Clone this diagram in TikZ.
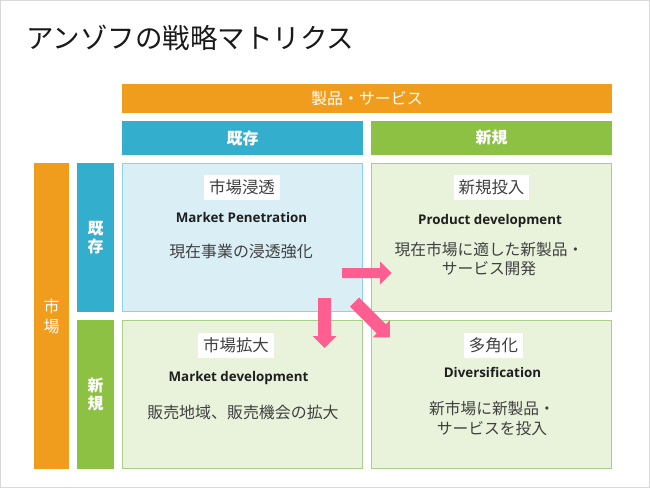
\documentclass[tikz,border=0pt]{standalone}
\usepackage{fontspec}
\setmainfont{Noto Sans CJK JP}
\newfontfamily\enfont{Open Sans}
\definecolor{orangec}{RGB}{240,157,30}
\definecolor{bluec}{RGB}{52,174,205}
\definecolor{greenc}{RGB}{140,193,68}
\definecolor{lbluefill}{RGB}{218,238,246}
\definecolor{lblueline}{RGB}{140,210,235}
\definecolor{lgreenfill}{RGB}{233,243,219}
\definecolor{lgreenline}{RGB}{170,205,140}
\definecolor{pinkc}{RGB}{255,94,145}
\definecolor{textc}{RGB}{64,64,64}
\definecolor{framec}{RGB}{217,217,217}
\begin{document}
\begin{tikzpicture}[x=1bp,y=-1bp,
  hbox/.style={draw=none, inner sep=0pt, text=white},
  cellblue/.style={draw=lblueline, fill=lbluefill, line width=1bp, minimum width=240bp, minimum height=148bp, inner sep=0pt},
  cellgreen/.style={draw=lgreenline, fill=lgreenfill, line width=1bp, minimum width=240bp, minimum height=148bp, inner sep=0pt},
  lab/.style={fill=white, text=textc, inner xsep=5bp, minimum height=25bp, inner ysep=0pt, font=\fontsize{16.5}{18}\selectfont},
  eng/.style={text=black!88, font=\enfont\bfseries\fontsize{13.4}{15}\selectfont, inner sep=0pt},
  body/.style={text=textc, align=center, inner sep=0pt},
  parrow/.style={fill=pinkc, draw=none}
]
\useasboundingbox (0,0) rectangle (650,488);
\draw[framec, line width=1bp] (0.5,0.5) rectangle (649.5,487.5);
\node[anchor=west, inner sep=0pt, text=black!90, font=\fontsize{27.6}{30}\selectfont] (title) at (26,38) {アンゾフの戦略マトリクス};
% headers
\node[hbox, fill=orangec, minimum width=490bp, minimum height=29bp, font=\fontsize{16}{18}\selectfont] (prod) at (367,98.5) {製品・サービス};
\node[hbox, fill=bluec, minimum width=241bp, minimum height=34bp, font=\bfseries\fontsize{16}{18}\selectfont] (pexist) at (242.5,138) {既存};
\node[hbox, fill=greenc, minimum width=241bp, minimum height=34bp, font=\bfseries\fontsize{16}{18}\selectfont] (pnew) at (491.5,138) {新規};
\node[hbox, fill=orangec, minimum width=35bp, minimum height=306bp, align=center, font=\fontsize{16}{20}\selectfont] (market) at (51.5,316) {市\\場};
\node[hbox, fill=bluec, minimum width=37bp, minimum height=149bp, align=center, font=\bfseries\fontsize{16}{18}\selectfont] (mexist) at (95.5,237.5) {既\\存};
\node[hbox, fill=greenc, minimum width=37bp, minimum height=149bp, align=center, font=\bfseries\fontsize{16}{18}\selectfont] (mnew) at (95.5,394.5) {新\\規};
% cells
\node[cellblue] (tl) at (242.5,237.5) {};
\node[cellgreen] (tr) at (491.5,237.5) {};
\node[cellgreen] (bl) at (242.5,394.5) {};
\node[cellgreen] (br) at (491.5,394.5) {};
% TL
\node[lab] (tllab) at (242,187.5) {市場浸透};
\node[eng] (tleng) at (241.5,217) {Market Penetration};
\node[body, font=\fontsize{16}{20}\selectfont] (tlbody) at (241,251) {現在事業の浸透強化};
% TR
\node[lab] (trlab) at (491.5,187.5) {新規投入};
\node[eng] (treng) at (490,221) {Product development};
\node[body, font=\fontsize{15.8}{20}\selectfont] (trbody) at (489,259) {現在市場に適した新製品・\\サービス開発};
% BL
\node[lab] (bllab) at (236,345.5) {市場拡大};
\node[eng] (bleng) at (238.5,378) {Market development};
\node[body, font=\fontsize{16}{20}\selectfont] (blbody) at (243,412) {販売地域、販売機会の拡大};
% BR
\node[lab] (brlab) at (493.5,345.5) {多角化};
\node[eng] (breng) at (492.5,372) {Diversification};
\node[body, font=\fontsize{15.8}{19.5}\selectfont] (brbody) at (492,418.5) {新市場に新製品・\\サービスを投入};
% arrows
\fill[parrow] (342,268) -- (380,268) -- (380,261.5) -- (391.5,273) -- (380,284.5) -- (380,278) -- (342,278) -- cycle;
\fill[parrow] (318,298) -- (331,298) -- (331,336) -- (336.5,336) -- (324.5,348) -- (312.5,336) -- (318,336) -- cycle;
\begin{scope}[shift={(354.5,302)}, rotate=-45]
\fill[parrow] (0,-6.5) -- (38,-6.5) -- (38,-12) -- (50,0) -- (38,12) -- (38,6.5) -- (0,6.5) -- cycle;
\end{scope}
\end{tikzpicture}
\end{document}
